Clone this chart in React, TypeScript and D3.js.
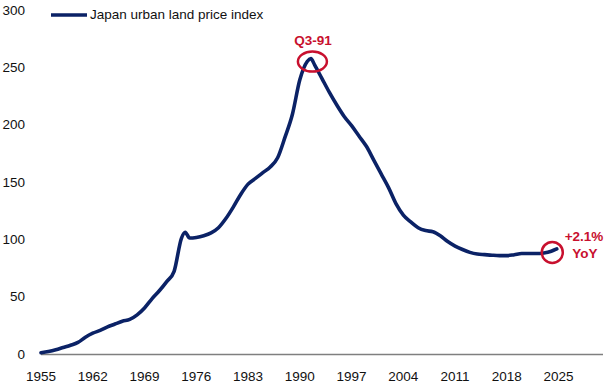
import * as d3 from "d3";

const W = 605;
const H = 384;
const FONT = "'Liberation Sans', Arial, sans-serif";
const NAVY = "#0b2266";
const RED = "#c8102e";

// index level (year as decimal)
const years = [
  1955, 1956, 1957, 1958, 1959, 1960, 1961, 1962, 1963, 1964, 1965, 1966, 1967, 1968, 1969,
  1970, 1971, 1972, 1973, 1974, 1974.5, 1975.1, 1976, 1977, 1978, 1979, 1980, 1981,
  1982, 1983, 1984, 1985, 1986, 1987, 1988, 1989, 1990, 1991, 1991.5, 1992, 1993, 1994,
  1995, 1996, 1997, 1998, 1999, 2000, 2001, 2002, 2003, 2004, 2005, 2006, 2007, 2008,
  2009, 2010, 2011, 2012, 2013, 2014, 2015, 2016, 2017, 2018, 2019, 2020, 2021, 2022,
  2023, 2024, 2024.75,
];
const values = [
  2, 3, 4.5, 6.5, 8.5, 11, 15.5, 19, 21.5, 24.5, 27, 29.5, 31, 35, 41,
  49, 56, 64, 73, 102, 107, 102, 102.5, 104, 106.5, 111, 119, 129,
  140, 149, 154, 159, 164, 172, 190, 210, 240, 256, 258.5, 253, 241, 229,
  218, 208, 200, 191, 182, 170, 158, 146, 132, 122, 116, 111, 108.5, 107.5,
  104, 99, 95, 92, 89.5, 88, 87.5, 87, 86.7, 86.7, 87.5, 88.5, 88.5, 88.5,
  89, 90.5, 92.5,
];

const xTicks = [1955, 1962, 1969, 1976, 1983, 1990, 1997, 2004, 2011, 2018, 2025];
const yTicks = [0, 50, 100, 150, 200, 250, 300];

const legendLabel = "Japan urban land price index";
const peakLabel = "Q3-91";
const peakYear = 1991.5;
const peakValue = 258.5;
const lastLabel = ["+2.1%", "YoY"];

const FS = 13.5;

export default function App() {
  const x = d3.scaleLinear().domain([1955, 2031]).range([41, 603]);
  const y = d3.scaleLinear().domain([0, 300]).range([355, 11]);

  const pts = years.map((yr, i) => [yr, values[i]] as [number, number]);
  const line = d3
    .line<[number, number]>()
    .x((d) => x(d[0]))
    .y((d) => y(d[1]))
    .curve(d3.curveMonotoneX);

  const lastYear = years[years.length - 1];
  const lastValue = values[values.length - 1];
  const lx = x(lastYear) - 4.5;
  const ly = y(lastValue) + 3.5;

  return (
    <svg
      width={W}
      height={H}
      style={{ position: "absolute", left: 0, top: 0, background: "#fff" }}
      fontFamily={FONT}
    >
      {/* y labels */}
      {yTicks.map((t) => (
        <text key={t} x={25} y={y(t)} textAnchor="end" dominantBaseline="middle" fontSize={FS} fill="#111">
          {t}
        </text>
      ))}
      {/* x axis */}
      <line x1={41} x2={603} y1={354.5} y2={354.5} stroke="#7f7f7f" strokeWidth={1.5} />
      {xTicks.map((t) => (
        <text key={t} x={x(t)} y={377} textAnchor="middle" dominantBaseline="middle" fontSize={FS} fill="#111">
          {t}
        </text>
      ))}

      {/* series */}
      <path d={line(pts) ?? ""} fill="none" stroke={NAVY} strokeWidth={3.6} strokeLinejoin="round" strokeLinecap="round" />

      {/* legend */}
      <line x1={51} x2={87} y1={15} y2={15} stroke={NAVY} strokeWidth={3.6} />
      <text x={90} y={15} dominantBaseline="middle" fontSize={FS} fill="#111">
        {legendLabel}
      </text>

      {/* peak annotation */}
      <ellipse cx={x(peakYear) + 1.5} cy={y(peakValue) + 3} rx={14.5} ry={10} fill="none" stroke={RED} strokeWidth={2.5} />
      <text x={x(peakYear) + 2} y={41} textAnchor="middle" dominantBaseline="middle" fontSize={FS} fontWeight="bold" fill={RED}>
        {peakLabel}
      </text>

      {/* latest annotation */}
      <circle cx={lx} cy={ly} r={10.5} fill="none" stroke={RED} strokeWidth={2.5} />
      <text x={584} y={237} textAnchor="middle" dominantBaseline="middle" fontSize={FS} fontWeight="bold" fill={RED}>
        {lastLabel[0]}
      </text>
      <text x={585} y={254} textAnchor="middle" dominantBaseline="middle" fontSize={FS} fontWeight="bold" fill={RED}>
        {lastLabel[1]}
      </text>
    </svg>
  );
}
